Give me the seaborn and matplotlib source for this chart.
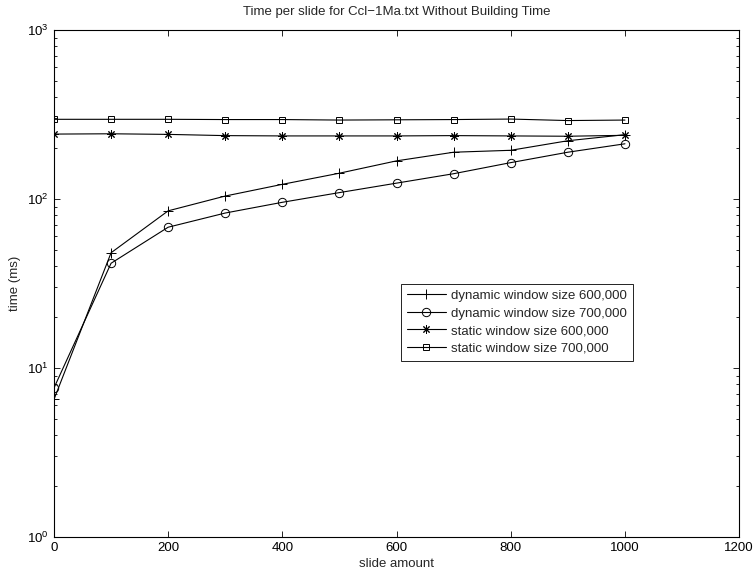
import matplotlib
matplotlib.use("Agg")
import matplotlib.pyplot as plt
import seaborn as sns
import numpy as np
from matplotlib.ticker import LogLocator, FixedLocator, NullFormatter

sns.set_theme(style="white")
plt.rcParams['font.family'] = ['Liberation Sans', 'DejaVu Sans']
plt.rcParams['mathtext.fontset'] = 'custom'
plt.rcParams['mathtext.rm'] = 'Liberation Sans'
plt.rcParams['mathtext.it'] = 'Liberation Sans'

slide_amount = [0, 100, 200, 300, 400, 500, 600, 700, 800, 900, 1000]
dyn_600k = [6.5, 48, 85, 104, 122, 142, 168, 189, 194, 221, 240]
dyn_700k = [7.6, 41.6, 68, 82.5, 95.5, 109, 124, 141, 164, 189, 212]
static_600k = [242, 243, 241, 237, 236, 236, 236, 237, 236, 235, 238]
static_700k = [296, 296, 296, 295, 295, 293, 294, 295, 297, 291, 293]

labels = ["dynamic window size 600,000", "dynamic window size 700,000",
          "static window size 600,000", "static window size 700,000"]
series = [dyn_600k, dyn_700k, static_600k, static_700k]
markers = ['+', 'o', (8, 2, 0), 's']
msizes = [6.5, 6, 6, 5]

FS = 9.5

fig = plt.figure(figsize=(7.56, 5.76), dpi=100)
ax = fig.add_axes([0.0714, 0.0682, 0.9063, 0.8797])

for vals, lab, mk, ms in zip(series, labels, markers, msizes):
    sns.lineplot(x=slide_amount, y=vals, ax=ax, label=lab, color='black',
                 marker=mk, markersize=ms, markerfacecolor='none',
                 markeredgecolor='black', markeredgewidth=0.7, linewidth=0.8)

ax.set_yscale('log')
ax.set_ylim(1, 1000)
ax.set_xlim(0, 1200)
ax.xaxis.set_major_locator(FixedLocator([0, 200, 400, 600, 800, 1000, 1200]))
ax.yaxis.set_major_locator(LogLocator(base=10, numticks=10))
ax.yaxis.set_minor_locator(LogLocator(base=10, subs=np.arange(2, 10), numticks=10))
ax.yaxis.set_minor_formatter(NullFormatter())

ax.tick_params(which='both', direction='in', top=True, right=True,
               bottom=True, left=True, labelsize=FS, colors='black', width=0.6)
ax.tick_params(which='major', length=4, pad=4)
ax.tick_params(which='minor', length=2.5)
for s in ax.spines.values():
    s.set_color('black')
    s.set_linewidth(0.8)

ax.set_title("Time per slide for Ccl\u22121Ma.txt Without Building Time", fontsize=FS, pad=11)
ax.set_xlabel("slide amount", fontsize=FS, labelpad=3)
ax.set_ylabel("time (ms)", fontsize=FS, labelpad=4)

leg = ax.legend(loc='upper left', bbox_to_anchor=(0.506, 0.499), borderaxespad=0,
                fontsize=FS, fancybox=False, framealpha=1, edgecolor='black',
                handlelength=3.0, handletextpad=0.4, labelspacing=0.4,
                borderpad=0.45)
leg.get_frame().set_linewidth(0.6)

fig.savefig("out.png", dpi=100)
